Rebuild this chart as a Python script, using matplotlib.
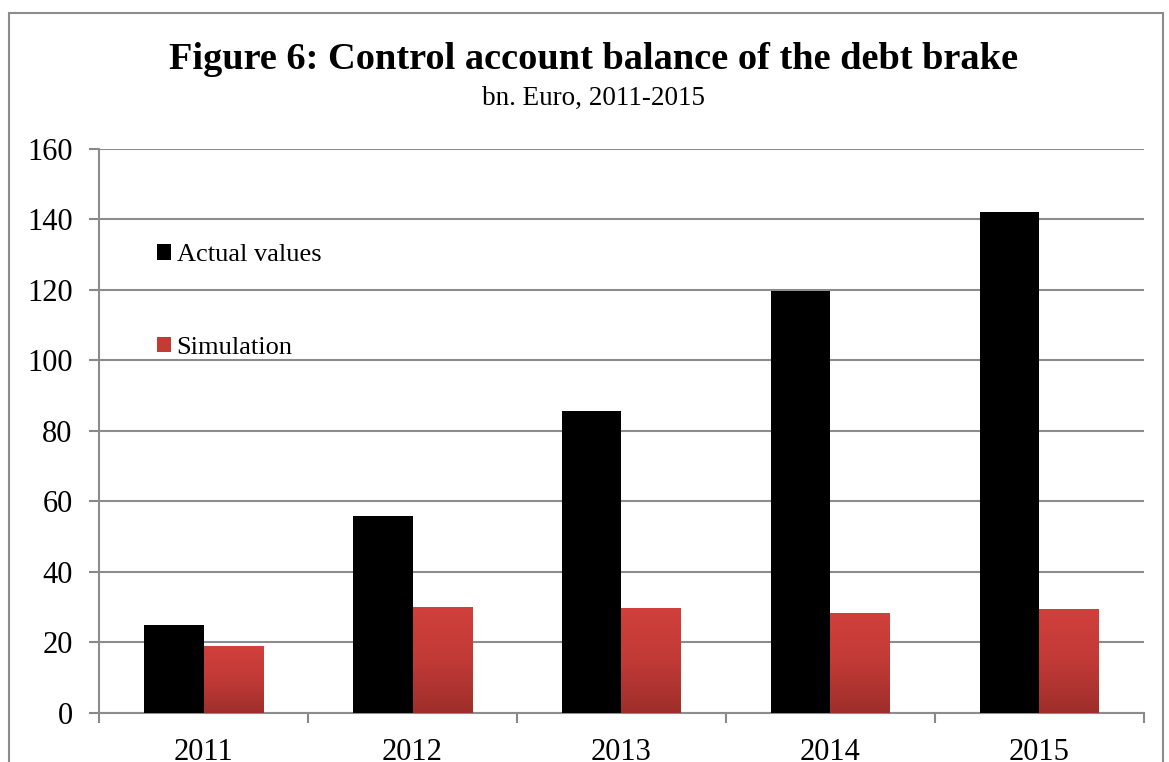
import numpy as np
import matplotlib.pyplot as plt
from matplotlib.colors import LinearSegmentedColormap
from matplotlib.patches import Rectangle

years = ['2011', '2012', '2013', '2014', '2015']
actual = [25.0, 56.0, 85.7, 119.7, 142.1]
simulation = [19.0, 30.0, 29.8, 28.4, 29.5]

plt.rcParams['font.family'] = ['Liberation Serif', 'DejaVu Serif']

fig = plt.figure(figsize=(11.69, 7.62), dpi=100)
ax = fig.add_axes([0.0847, 0.0643, 0.8939, 0.7402])

ind = np.arange(len(years))
width = 0.287

rects1 = ax.bar(ind - width / 2, actual, width, color='black', zorder=3,
                label='Actual values')
rects2 = ax.bar(ind + width / 2, simulation, width, color='#c43b36', zorder=3,
                label='Simulation')

# red gradient fill, clipped to each bar
cmap = LinearSegmentedColormap.from_list('red_grad', ['#d1403c', '#c13a36', '#9e2e2b'])
grad = np.linspace(0, 1, 256).reshape(-1, 1)
for r in rects2:
    x0, w, h = r.get_x(), r.get_width(), r.get_height()
    im = ax.imshow(grad, cmap=cmap, aspect='auto', extent=(x0, x0 + w, 0, h),
                   origin='upper', zorder=4)
    im.set_clip_path(r)

# axes and labels
ax.set_xlim(-0.5, len(years) - 0.5)
ax.set_ylim(0, 160)
ax.set_yticks(np.arange(0, 161, 20))
ax.set_xticks(ind)
ax.set_xticklabels(years)
ax.set_xticks(np.arange(-0.5, len(years), 1), minor=True)
ax.tick_params(axis='x', which='major', length=0, pad=18, labelsize=22)
ax.tick_params(axis='x', which='minor', length=7, width=1.5, color='#888888')
ax.tick_params(axis='y', length=7, width=1.5, color='#888888', labelsize=22, pad=12)
ax.yaxis.grid(True, color='#8c8c8c', linewidth=1.5, zorder=0)
ax.set_axisbelow(True)
for s in ['top', 'right']:
    ax.spines[s].set_visible(False)
for s in ['left', 'bottom']:
    ax.spines[s].set_color('#8c8c8c')
    ax.spines[s].set_linewidth(1.5)

fig.text(0.508, 0.922, 'Figure 6: Control account balance of the debt brake',
         ha='center', va='center', fontsize=27.6, fontweight='bold')
fig.text(0.508, 0.871, 'bn. Euro, 2011-2015', ha='center', va='center', fontsize=19.5)

## add a legend
leg = ax.legend(loc='upper left', bbox_to_anchor=(0.033, 0.873), frameon=False,
                fontsize=19, handlelength=0.53, handleheight=0.53,
                handletextpad=0.2, labelspacing=2.67)

# outer border
fig.patches.append(Rectangle((0.0077, -0.05), 0.9872, 1.033, transform=fig.transFigure,
                             fill=False, edgecolor='#8c8c8c', linewidth=1.5))

fig.savefig('out.png', dpi=100)
